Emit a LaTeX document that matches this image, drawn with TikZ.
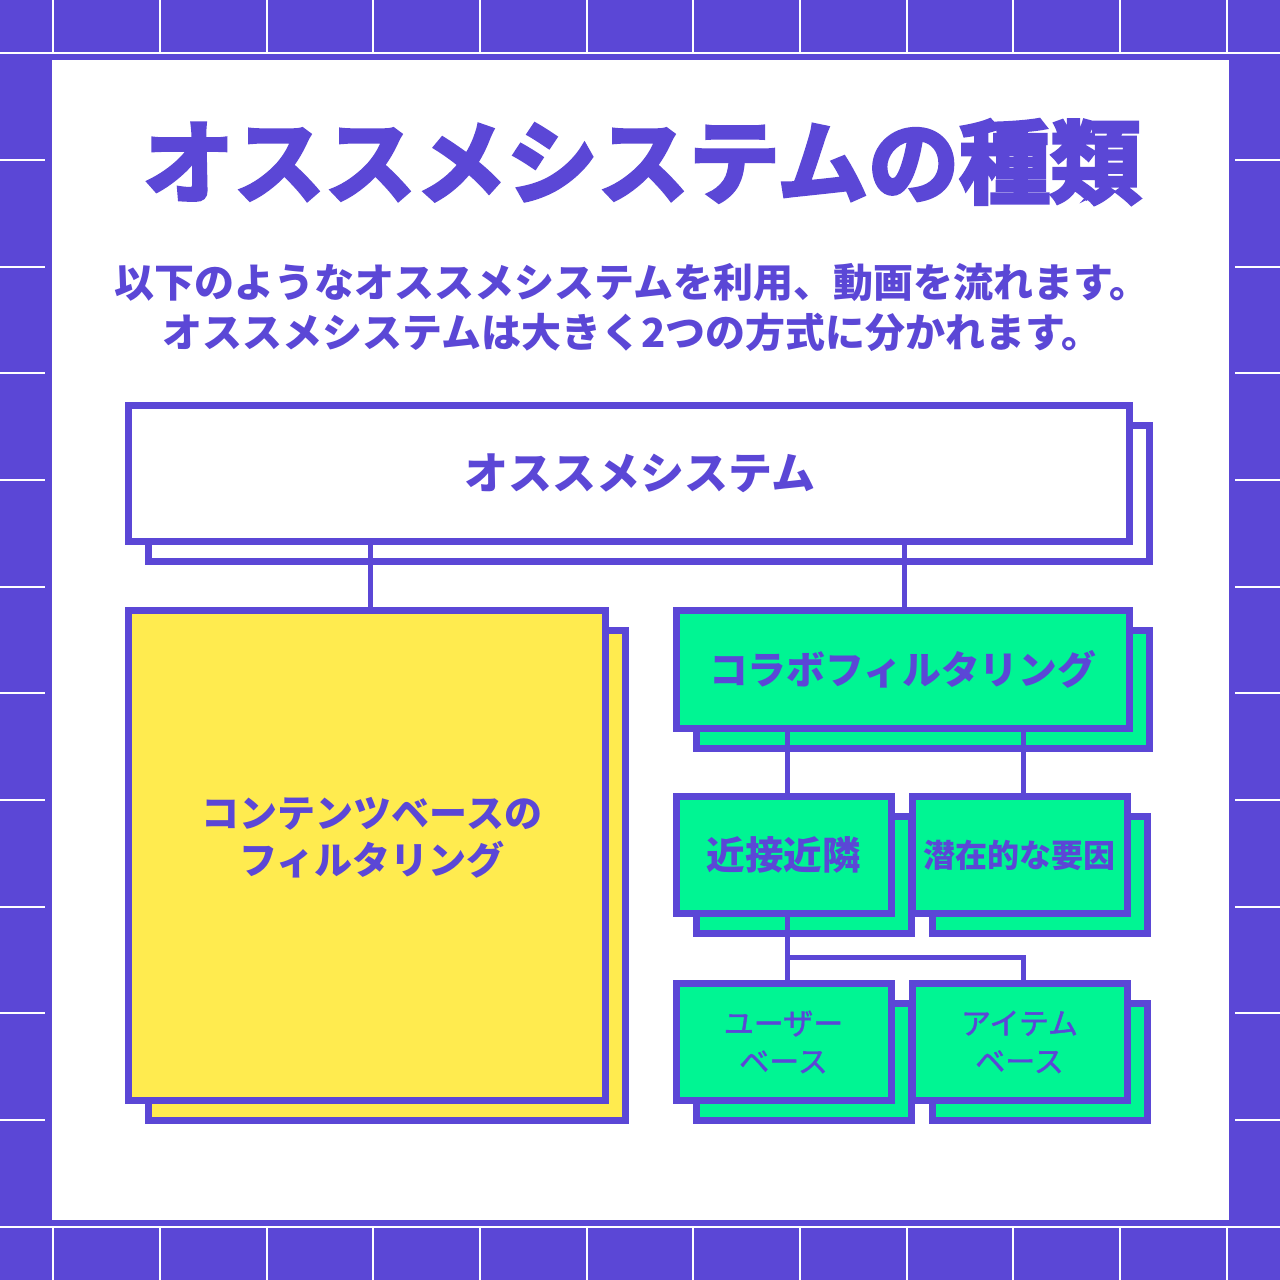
\documentclass[tikz,border=0pt]{standalone}
\usepackage{fontspec}
\setmainfont{Noto Sans CJK JP}
\newfontfamily\heavyfont{Noto Sans CJK JP Bold}[FakeBold=4]
\newfontfamily\medfont{Noto Sans CJK JP}[FakeBold=1.5]
\usetikzlibrary{positioning,shadows}
\definecolor{ink}{HTML}{5B47D6}
\definecolor{mint}{HTML}{00F593}
\definecolor{lemon}{HTML}{FFEB4F}

\begin{document}
\begin{tikzpicture}[x=0.5pt,y=-0.5pt,
    box/.style={draw=ink,line width=3.5pt,text=ink,align=center,inner sep=0pt,
                copy shadow={shadow xshift=10pt,shadow yshift=-10pt}},
    small/.style={box,fill=mint,minimum width=107.5pt,minimum height=58.5pt},
    every edge/.style={draw=ink,line width=2.5pt}]

  \useasboundingbox (0,0) rectangle (1280,1280);
  \fill[ink] (0,0) rectangle (1280,1280);
  \foreach \k in {0,...,11}{
    \draw[white,line width=1pt] ({53.33+106.67*\k},0) -- ++(0,1280);
    \draw[white,line width=1pt] (0,{53.33+106.67*\k}) -- ++(1280,0);
  }
  \fill[ink] (45,54) rectangle (1235,1226);
  \fill[white] (52,60) rectangle (1229,1220);

  \node[text=ink,font=\heavyfont\fontsize{45.5pt}{50pt}\selectfont] (title) at (642,162) {オススメシステムの種類};
  \node[text=ink,align=center,font=\bfseries\fontsize{20pt}{25pt}\selectfont] (intro) at (632,307)
       {以下のようなオススメシステムを利用、動画を流れます。\\オススメシステムは大きく2つの方式に分かれます。};

  \node[box,fill=white,minimum width=500.5pt,minimum height=68pt,
        label={[text=ink,font=\bfseries\fontsize{22pt}{26pt}\selectfont,xshift=5.5pt]center:オススメシステム}]
        (system) at (629,473.5) {};
  \node[box,fill=lemon,minimum width=238.5pt,minimum height=244.75pt,
        label={[text=ink,align=center,font=\bfseries\fontsize{19pt}{23.5pt}\selectfont,xshift=2.5pt,yshift=8.5pt]center:コンテンツベースの\\フィルタリング}]
        (content) at (367,855.25) {};
  \node[box,fill=mint,minimum width=226.75pt,minimum height=59pt,
        font=\bfseries\fontsize{19.4pt}{24pt}\selectfont] (collab) at (902.75,669.5) {コラボフィルタリング};
  \node[small,font=\bfseries\fontsize{19.25pt}{24pt}\selectfont] (kinsetsu)
        [below=30.5pt of collab.south west,anchor=north west] {近接近隣};
  \node[small,font=\bfseries\fontsize{16pt}{20pt}\selectfont] (sensai) [right=7pt of kinsetsu] {潜在的な要因};
  \node[small,font=\medfont\fontsize{15pt}{19pt}\selectfont] (user) [below=31.5pt of kinsetsu] {ユーザー\\ベース};
  \node[small,font=\medfont\fontsize{15pt}{19pt}\selectfont] (item) [below=31.5pt of sensai] {アイテム\\ベース};

  \coordinate[below=20pt of kinsetsu.south,xshift=2pt] (fork);

  \path ([xshift=1.5pt]system.south -| content.north) edge ([xshift=1.5pt]content.north)
        ([xshift=1pt]system.south -| collab.north)  edge ([xshift=1pt]collab.north)
        ([xshift=2pt]collab.south -| kinsetsu.north) edge ([xshift=2pt]kinsetsu.north)
        ([xshift=2pt]collab.south -| sensai.north)  edge ([xshift=2pt]sensai.north)
        ([xshift=2pt]kinsetsu.south) edge ([xshift=2pt]user.north);
  \draw[draw=ink,line width=2.5pt,line cap=rect] (fork) -| ([xshift=2pt]item.north);
\end{tikzpicture}
\end{document}
